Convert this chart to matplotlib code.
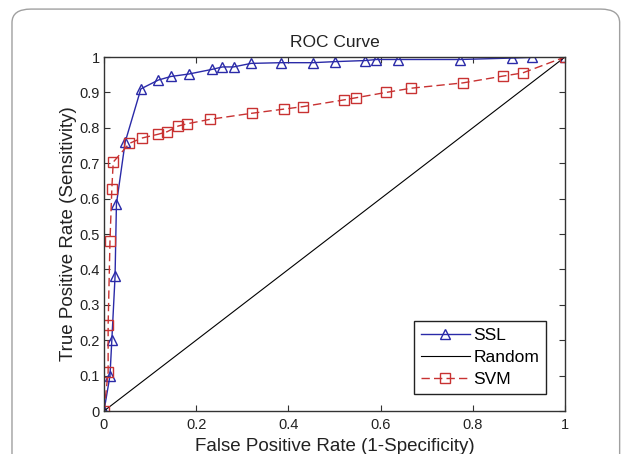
import matplotlib
matplotlib.use("Agg")
import matplotlib.pyplot as plt
from matplotlib.patches import FancyBboxPatch

plt.rcParams['font.family'] = ['Liberation Sans', 'DejaVu Sans']

# SSL curve points
ssl_fpr = [0, 0.013, 0.017, 0.024, 0.027, 0.046, 0.080, 0.118, 0.145, 0.184, 0.234,
           0.257, 0.281, 0.319, 0.384, 0.453, 0.501, 0.566, 0.591, 0.638, 0.772,
           0.884, 0.928, 1.0]
ssl_tpr = [0, 0.10, 0.20, 0.38, 0.585, 0.76, 0.91, 0.935, 0.945, 0.952, 0.965,
           0.972, 0.972, 0.982, 0.984, 0.984, 0.987, 0.99, 0.993, 0.993, 0.993,
           0.997, 0.999, 1.0]

# SVM curve points
svm_fpr = [0, 0.009, 0.009, 0.013, 0.017, 0.020, 0.055, 0.082, 0.118, 0.137, 0.161,
           0.179, 0.230, 0.320, 0.391, 0.432, 0.521, 0.547, 0.612, 0.667, 0.779,
           0.865, 0.908, 1.0]
svm_tpr = [0, 0.11, 0.243, 0.48, 0.627, 0.703, 0.756, 0.771, 0.782, 0.789, 0.805,
           0.811, 0.824, 0.841, 0.853, 0.860, 0.879, 0.885, 0.900, 0.912, 0.927,
           0.946, 0.955, 1.0]

rand_x = [0, 1]
rand_y = [0, 1]

fig = plt.figure(figsize=(6.31, 4.54), dpi=100)
# rounded frame of the figure panel
frame = FancyBboxPatch((0.019, -0.05), 0.963, 1.03, boxstyle="round,pad=0,rounding_size=0.03",
                       transform=fig.transFigure, fill=False, edgecolor='#a0a0a0', linewidth=1.0)
fig.patches.append(frame)

ax = fig.add_axes([0.1648, 0.0947, 0.7306, 0.7797])

ax.plot(ssl_fpr, ssl_tpr, color='#2a2aa8', linewidth=1.0, marker='^', markersize=7.5,
        markerfacecolor='none', markeredgecolor='#2a2aa8', markeredgewidth=1.0, label='SSL')
ax.plot(rand_x, rand_y, color='black', linewidth=0.8, label='Random')
ax.plot(svm_fpr, svm_tpr, color='#c83232', linewidth=1.0, linestyle=(0, (6, 3)), marker='s',
        markersize=7.5, markerfacecolor='none', markeredgecolor='#c83232', markeredgewidth=1.0,
        label='SVM')

ax.set_xlim(0, 1)
ax.set_ylim(0, 1)
ax.set_xticks([0, 0.2, 0.4, 0.6, 0.8, 1])
ax.set_xticklabels(['0', '0.2', '0.4', '0.6', '0.8', '1'])
ax.set_yticks([i / 10 for i in range(11)])
ax.set_yticklabels(['0', '0.1', '0.2', '0.3', '0.4', '0.5', '0.6', '0.7', '0.8', '0.9', '1'])
ax.tick_params(direction='in', top=True, right=True, length=4, labelsize=10.5,
               colors='#333333', labelcolor='#222222')
ax.tick_params(axis='x', pad=5)
ax.tick_params(axis='y', pad=3)
for s in ax.spines.values():
    s.set_linewidth(1.0)
    s.set_color('#333333')

ax.set_title('ROC Curve', fontsize=12.5, pad=7, color='#222222')
ax.set_xlabel('False Positive Rate (1-Specificity)', fontsize=13.5, labelpad=4, color='#222222')
ax.set_ylabel('True Positive Rate (Sensitivity)', fontsize=13.5, labelpad=2, color='#222222')

leg = ax.legend(loc='lower right', bbox_to_anchor=(0.959, 0.048), fontsize=12.5, fancybox=False,
                edgecolor='#222222', framealpha=1, handlelength=2.8, borderpad=0.4,
                labelspacing=0.4, handletextpad=0.2, borderaxespad=0)
leg.get_frame().set_linewidth(1.0)

fig.savefig('out.png', dpi=100)
